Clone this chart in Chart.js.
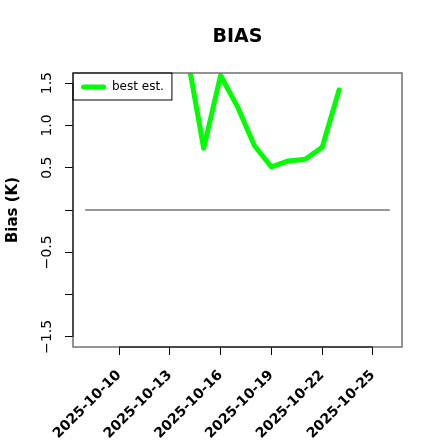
<!DOCTYPE html>
<html>
<head>
<meta charset="utf-8">
<script src="https://cdn.jsdelivr.net/npm/chart.js@4/dist/chart.umd.min.js"></script>
<style>
  html, body { margin: 0; padding: 0; background: #ffffff; }
  #wrap { width: 440px; height: 440px; }
</style>
</head>
<body>
<div id="wrap"><canvas id="c" width="440" height="440"></canvas></div>
<script>
// ---- data ----
const dates = ['2025-10-14','2025-10-15','2025-10-16','2025-10-17','2025-10-18',
               '2025-10-19','2025-10-20','2025-10-21','2025-10-22','2025-10-23'];
const bestEst = [1.86, 0.73, 1.59, 1.22, 0.76, 0.51, 0.58, 0.60, 0.74, 1.42];
const zeroDates = ['2025-10-08', '2025-10-26'];
const zeroValues = [0, 0];
const xTickDates = ['2025-10-10','2025-10-13','2025-10-16','2025-10-19','2025-10-22','2025-10-25'];
const yTickValues = [-1.5, -1.0, -0.5, 0, 0.5, 1.0, 1.5];
const yTickLabels = ['\u22121.5', '', '\u22120.5', '', '0.5', '1.0', '1.5'];
const xDataRange = ['2025-10-08', '2025-10-26'];
const yDataRange = [-1.5, 1.5];
const seriesLabel = 'best est.';
const chartTitle = 'BIAS';
const yAxisTitle = 'Bias (K)';

// ---- helpers ----
const FONT = "'DejaVu Sans', 'Liberation Sans', sans-serif";
function toDay(s) {
  const [y, m, d] = s.split('-').map(Number);
  return Date.UTC(y, m - 1, d) / 86400000;
}
function dayLabel(v) {
  const i = xTickDates.findIndex(s => Math.abs(toDay(s) - v) < 1e-6);
  return i >= 0 ? xTickDates[i] : '';
}
function yLabel(v) {
  const i = yTickValues.findIndex(t => Math.abs(t - v) < 1e-9);
  return i >= 0 ? yTickLabels[i] : '';
}
const x0 = toDay(xDataRange[0]), x1 = toDay(xDataRange[1]);
const xPad = (x1 - x0) * 0.04;
const yPad = (yDataRange[1] - yDataRange[0]) * 0.04;

const framePlugin = {
  id: 'frame',
  afterLayout(chart) {
    const a = chart.chartArea;
    const lg = chart.legend;
    if (lg) {
      lg.left = a.left; lg.top = a.top; lg.right = a.right; lg.bottom = a.bottom;
      lg.width = a.right - a.left; lg.height = a.bottom - a.top;
    }
    const tb = chart.titleBlock;
    if (tb) {
      tb.left = a.left; tb.right = a.right; tb.width = a.right - a.left;
    }
  },
  afterDraw(chart) {
    const { ctx, chartArea: a, scales: { x, y } } = chart;
    ctx.save();
    // plot box
    ctx.strokeStyle = '#707070';
    ctx.lineWidth = 1.5;
    ctx.strokeRect(a.left, a.top, a.right - a.left, a.bottom - a.top);
    // axis lines between first and last tick
    ctx.strokeStyle = '#000000';
    ctx.lineWidth = 1;
    ctx.beginPath();
    ctx.moveTo(x.getPixelForValue(toDay(xTickDates[0])), a.bottom);
    ctx.lineTo(x.getPixelForValue(toDay(xTickDates[xTickDates.length - 1])), a.bottom);
    ctx.moveTo(a.left, y.getPixelForValue(yTickValues[0]));
    ctx.lineTo(a.left, y.getPixelForValue(yTickValues[yTickValues.length - 1]));
    ctx.stroke();
    // legend border
    ctx.font = '12px ' + FONT;
    const tw = ctx.measureText(seriesLabel).width;
    const w = 8 + 25 + 6 + tw + 8;
    ctx.strokeRect(a.left, a.top, w, 27);
    ctx.restore();
  }
};

new Chart(document.getElementById('c'), {
  type: 'line',
  data: {
    datasets: [
      {
        label: seriesLabel,
        data: dates.map((d, i) => ({ x: toDay(d), y: bestEst[i] })),
        borderColor: '#00ff00',
        backgroundColor: '#00ff00',
        borderWidth: 5,
        pointRadius: 0,
        tension: 0,
        borderJoinStyle: 'round',
        borderCapStyle: 'round',
        clip: 0,
        order: 0
      },
      {
        label: 'zero',
        data: zeroDates.map((d, i) => ({ x: toDay(d), y: zeroValues[i] })),
        borderColor: '#777777',
        borderWidth: 1.5,
        pointRadius: 0,
        tension: 0,
        order: 1
      }
    ]
  },
  options: {
    responsive: false,
    animation: false,
    devicePixelRatio: 1,
    events: [],
    layout: { padding: { left: 0, right: 38, top: 0, bottom: 0 } },
    plugins: {
      tooltip: { enabled: false },
      title: {
        display: true,
        text: chartTitle,
        color: '#000000',
        font: { family: FONT, size: 19, weight: 'bold', lineHeight: 1.2 },
        padding: { top: 25.6, bottom: 24.6 }
      },
      legend: {
        display: true,
        position: 'chartArea',
        align: 'start',
        labels: {
          font: { family: FONT, size: 12 },
          color: '#000000',
          boxWidth: 25,
          boxHeight: 5,
          padding: 8,
          generateLabels: () => [{
            text: seriesLabel,
            fillStyle: '#00ff00',
            strokeStyle: '#00ff00',
            lineWidth: 0,
            borderRadius: 2.5,
            hidden: false,
            datasetIndex: 0,
            fontColor: '#000000'
          }]
        }
      }
    },
    scales: {
      x: {
        type: 'linear',
        min: x0 - xPad,
        max: x1 + xPad,
        afterBuildTicks: (s) => { s.ticks = xTickDates.map(d => ({ value: toDay(d) })); },
        afterFit: (s) => { s.height = 93; },
        border: { display: false },
        grid: { display: true, drawOnChartArea: false, drawTicks: true, tickLength: 8, color: '#000000', lineWidth: 1 },
        ticks: {
          autoSkip: false,
          minRotation: 45,
          maxRotation: 45,
          padding: 12,
          color: '#000000',
          font: { family: FONT, size: 14, weight: 'bold' },
          callback: (v) => dayLabel(v)
        }
      },
      y: {
        type: 'linear',
        min: yDataRange[0] - yPad,
        max: yDataRange[1] + yPad,
        afterBuildTicks: (s) => { s.ticks = yTickValues.map(v => ({ value: v })); },
        afterFit: (s) => { s.width = 73; },
        border: { display: false },
        grid: { display: true, drawOnChartArea: false, drawTicks: true, tickLength: 8, color: '#000000', lineWidth: 1 },
        title: {
          display: true,
          text: yAxisTitle,
          color: '#000000',
          font: { family: FONT, size: 15, weight: 'bold', lineHeight: 1.2 },
          padding: { top: 4, bottom: 0 }
        },
        ticks: {
          autoSkip: false,
          minRotation: 90,
          maxRotation: 90,
          crossAlign: 'center',
          padding: 1,
          color: '#000000',
          font: { family: FONT, size: 14 },
          callback: (v) => yLabel(v)
        }
      }
    }
  },
  plugins: [framePlugin]
});
</script>
</body>
</html>
